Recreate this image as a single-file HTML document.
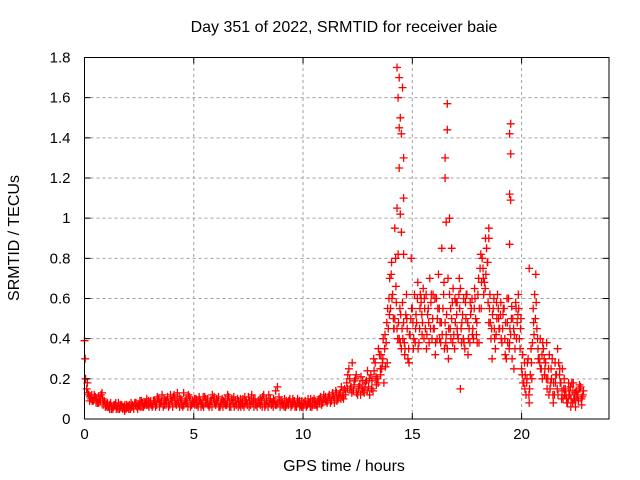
<!DOCTYPE html>
<html><head><meta charset="utf-8"><style>
body{margin:0;background:#fff}
svg{display:block;font-family:"Liberation Sans",sans-serif;font-size:15px}
</style></head><body>
<svg id="chart" width="640" height="480" xmlns="http://www.w3.org/2000/svg">
<rect width="640" height="480" fill="#fff"/>
<text x="344" y="32" text-anchor="middle" style="font-size:16px">Day 351 of 2022, SRMTID for receiver baie</text>
<text x="344" y="471" text-anchor="middle" style="font-size:16px">GPS time / hours</text>
<text transform="translate(19,238) rotate(-90)" text-anchor="middle" style="font-size:16px">SRMTID / TECUs</text>
<g id="grid"></g><g id="marks"></g><g id="axes"></g>
</svg>
<script>
const xTicks=[0,5,10,15,20];
const yTicks=[0,0.2,0.4,0.6,0.8,1,1.2,1.4,1.6,1.8];
const yTickLabels=["0","0.2","0.4","0.6","0.8","1","1.2","1.4","1.6","1.8"];
const seriesA=[.39,.15,.12,.10,.09,.11,.08,.10,.13,.09,
.07,.06,.08,.05,.07,.06,.05,.07,.06,.05,
.06,.05,.07,.08,.06,.07,.09,.06,.08,.07,
.08,.06,.09,.07,.10,.08,.06,.09,.11,.07,
.09,.12,.07,.08,.10,.06,.09,.08,.11,.07,
.08,.10,.06,.09,.07,.11,.08,.06,.09,.10,
.07,.09,.06,.10,.08,.07,.11,.06,.08,.09,
.10,.07,.08,.06,.09,.11,.07,.08,.10,.06,
.08,.09,.12,.07,.06,.10,.08,.09,.07,.11,
.09,.07,.06,.08,.10,.07,.09,.06,.08,.07,
.06,.09,.07,.08,.06,.10,.07,.09,.11,.08,
.10,.08,.12,.09,.11,.14,.10,.13,.11,.15,
.18,.25,.16,.14,.20,.12,.17,.15,.13,.19,
.16,.22,.14,.28,.20,.32,.25,.18,.38,.45,
.55,.62,.50,.45,.40,.35,.48,.52,.30,.42,
.55,.62,.48,.38,.58,.65,.45,.52,.70,.40,
.45,.60,.72,.38,.55,.48,.35,.62,.50,.42,
.58,.40,.65,.52,.35,.62,.45,.55,.40,.50,
.62,.75,.80,.68,.85,.48,.40,.55,.35,.62,
.45,.38,.55,.30,.60,.42,.50,.35,.48,.40,
.25,.18,.12,.30,.22,.38,.62,.45,.30,.25,
.35,.28,.20,.15,.30,.12,.22,.28,.18,.10,
.15,.08,.12,.18,.10,.14,.09,.16,.12];
const seriesB=[.20,.13,.11,.09,.12,.10,.08,.12,.07,.06,
.08,.05,.06,.07,.05,.08,.06,.05,.07,.06,
.07,.06,.05,.08,.07,.06,.08,.07,.10,.06,
.07,.09,.06,.10,.08,.12,.07,.09,.06,.10,
.11,.08,.13,.06,.09,.07,.10,.12,.06,.09,
.07,.09,.11,.08,.06,.10,.07,.09,.12,.08,
.10,.06,.08,.09,.07,.12,.08,.10,.06,.07,
.09,.06,.10,.08,.07,.09,.12,.06,.08,.09,
.07,.11,.06,.09,.08,.07,.10,.14,.08,.06,
.08,.10,.07,.09,.06,.08,.07,.10,.06,.09,
.07,.06,.08,.10,.07,.09,.06,.08,.07,.12,
.09,.11,.08,.13,.10,.09,.12,.16,.10,.14,
.22,.15,.28,.19,.13,.16,.21,.14,.18,.24,
.12,.19,.24,.17,.35,.22,.30,.42,.28,.52,
.78,.45,.66,.82,.38,.58,.32,.50,.28,.80,
.35,.45,.68,.55,.42,.60,.35,.48,.58,.62,
.32,.50,.40,.85,.68,.42,.30,.55,.38,.60,
.45,.70,.38,.60,.50,.32,.58,.42,.65,.48,
.38,.55,.70,.90,.78,.62,.30,.45,.58,.50,
.58,.52,.32,.48,.38,.56,.25,.55,.62,.45,
.32,.15,.20,.08,.28,.48,.72,.35,.40,.20,
.22,.38,.12,.25,.08,.18,.35,.25,.14,.20,
.10,.18,.06,.14,.09,.12,.17,.07];
const seriesC=[.30,.18,.09,.12,.10,.08,.11,.09,.10,.08,
.06,.07,.05,.06,.08,.05,.07,.06,.04,.07,
.05,.08,.06,.07,.05,.09,.06,.08,.07,.09,
.09,.07,.08,.11,.06,.09,.10,.07,.08,.12,
.06,.10,.09,.11,.07,.13,.08,.06,.10,.08,
.10,.07,.09,.06,.11,.08,.10,.07,.06,.11,
.08,.11,.07,.06,.10,.08,.06,.09,.11,.07,
.06,.10,.07,.11,.08,.06,.09,.10,.07,.08,
.10,.06,.08,.10,.12,.08,.06,.07,.16,.09,
.07,.06,.09,.07,.08,.10,.06,.08,.09,.06,
.08,.07,.10,.06,.09,.07,.08,.10,.09,.10,
.11,.09,.10,.12,.08,.13,.11,.10,.14,.12,
.15,.20,.13,.17,.22,.15,.12,.19,.16,.14,
.20,.15,.30,.21,.18,.25,.28,.35,.48,.60,
.72,.50,.80,.40,.55,.45,.38,.62,.35,.50,
.48,.38,.60,.45,.52,.40,.62,.55,.45,.50,
.60,.40,.55,.48,.62,.38,.70,.45,.58,.35,
.52,.62,.45,.40,.58,.48,.38,.60,.55,.42,
.70,.82,.75,.65,.78,.55,.45,.60,.42,.55,
.52,.45,.40,.60,.35,.50,.45,.58,.52,.35,
.22,.28,.18,.12,.35,.55,.50,.40,.28,.32,
.30,.20,.25,.18,.12,.28,.15,.22,.10,.15,
.12,.10,.16,.08,.13,.11,.15,.10,.14];
const seriesDStart=13.5;
const seriesD=[.32,.40,.26,.55,.70,
.60,.45,.58,.48,.52,.40,.35,.45,.42,.55,
.40,.52,.35,.62,.48,.55,.42,.38,.62,.45,
.38,.55,.48,.42,.35,.52,.45,.40,.65,.48,
.42,.55,.48,.38,.62,.40,.52,.45,.60,.38,
.55,.68,.62,.72,.58,.48,.52,.40,.50,.45,
.40,.55,.48,.38,.45,.30,.42,.40,.55,.50,
.18,.22,.28,.15,.20,.42,.58,.30,.25,.38,
.25,.15,.32,.20,.18,.22,.12,.18,.25,.12,
.08,.14,.10,.18,.06,.12,.15,.11];
const spikeTimes=[14.3,14.35,14.4,14.45,14.4,14.5,14.55,14.45,14.5,14.6,14.6,14.3,14.4,14.6,14.2,16.5,16.6,16.6,16.5,16.7,16.55,17.05,18.5,18.5,19.5,19.45,19.5,19.45,19.5,19.45,17.2,20.35,16.8,15.4];
const spikeValues=[1.75,1.6,1.7,1.5,1.25,1.42,1.65,1.02,0.93,1.3,1.1,1.05,1.45,0.82,0.95,1.3,1.57,1.44,1.2,1.0,0.98,0.58,0.9,0.95,1.47,1.42,1.32,1.12,1.09,0.87,0.15,0.75,0.85,0.6];

const X0=84.5,X1=609,Y0=419,Y1=57.5,XMAX=24,YMAX=1.8;
const sx=v=>X0+(X1-X0)*v/XMAX, sy=v=>Y0-(Y0-Y1)*v/YMAX;
const NS="http://www.w3.org/2000/svg";
function mk(tag,attrs,parent){const e=document.createElementNS(NS,tag);for(const k in attrs)e.setAttribute(k,attrs[k]);parent.appendChild(e);return e;}
const grid=document.getElementById('grid'),marks=document.getElementById('marks'),axes=document.getElementById('axes');
xTicks.forEach(t=>{const x=sx(t);
 if(t>0){const g=mk('line',{x1:x,x2:x,y1:Y0,y2:Y1,stroke:'#a0a0a0','stroke-dasharray':'3,3'},grid);
 
 }
 mk('line',{x1:x,x2:x,y1:Y0,y2:Y0-6,stroke:'#000'},axes);
 mk('line',{x1:x,x2:x,y1:Y1,y2:Y1+6,stroke:'#000'},axes);
 const l=mk('text',{x:x,y:Y0+20,'text-anchor':'middle'},axes);l.textContent=t;
 
 });
yTicks.forEach((t,i)=>{const y=sy(t);
 if(t>0&&t<YMAX){const g=mk('line',{x1:X0,x2:X1,y1:y,y2:y,stroke:'#a0a0a0','stroke-dasharray':'3,3'},grid);
 
 }
 mk('line',{x1:X0,x2:X0+6,y1:y,y2:y,stroke:'#000'},axes);
 mk('line',{x1:X1,x2:X1-6,y1:y,y2:y,stroke:'#000'},axes);
 const l=mk('text',{x:X0-14,y:y+5,'text-anchor':'end'},axes);l.textContent=yTickLabels[i];
 
 });
const fr=mk('rect',{x:X0,y:Y1,width:X1-X0,height:Y0-Y1,fill:'none',stroke:'#000'},axes);


let d='';
function plus(t,v){const x=sx(t),y=sy(v);d+=`M${(x-4).toFixed(1)} ${y.toFixed(1)}h8M${x.toFixed(1)} ${(y-4).toFixed(1)}v8`;}
seriesA.forEach((v,i)=>plus(i*0.1,v));
seriesB.forEach((v,i)=>plus(i*0.1+0.05,v));
seriesC.forEach((v,i)=>plus(i*0.1+0.033,v));
seriesD.forEach((v,i)=>plus(seriesDStart+i*0.1+0.067,v));
spikeTimes.forEach((t,i)=>plus(t,spikeValues[i]));
const p=mk('path',{d:d,stroke:'#ff0000','stroke-width':1.3,fill:'none'},marks);


</script>
</body></html>
